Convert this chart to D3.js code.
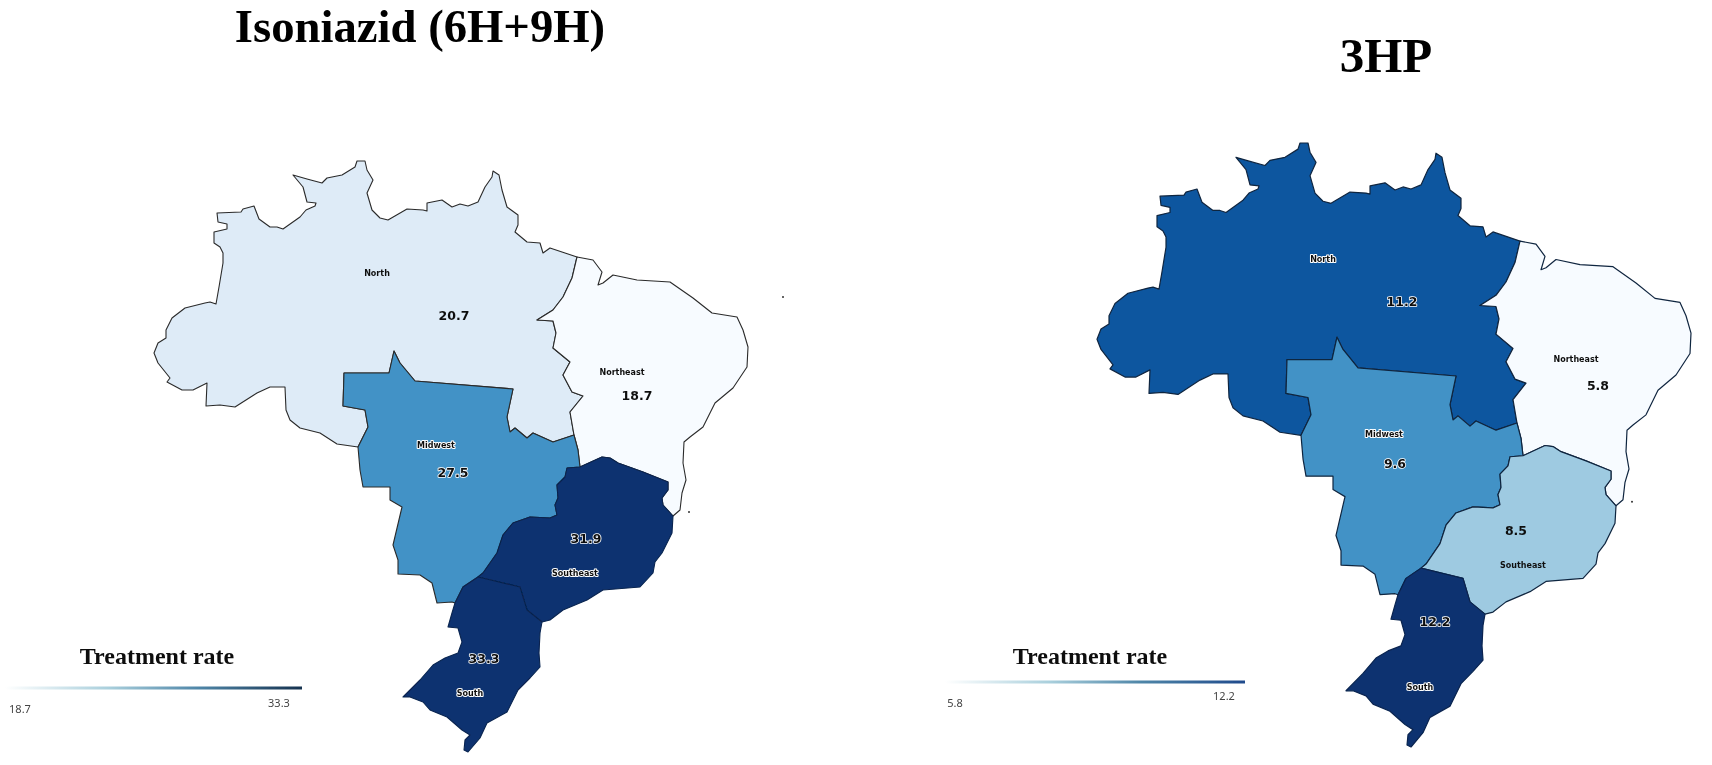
<!DOCTYPE html>
<html><head><meta charset="utf-8">
<script src="https://cdn.jsdelivr.net/npm/d3@7"></script>
<style>html,body{margin:0;padding:0;background:#fff}svg{display:block}</style>
</head><body><svg id="c" width="1712" height="765"></svg>
<script>
// ---------- data ----------
const regions = ["North","Northeast","Midwest","Southeast","South"];
const isoniazidRates = [20.7,18.7,27.5,31.9,33.3];
const threeHpRates = [11.2,5.8,9.6,8.5,12.2];
const panelTitles = ["Isoniazid (6H+9H)","3HP"];
const legendTitle = "Treatment rate";
const blueClasses = ["#f7fbff","#deebf7","#9ecae1","#4292c6","#0f569f","#0a3270"];
const blueBreaks = [0.1,0.3,0.5,0.75,0.87];

// map geometry (map units), shared borders between regions
const northWestBorder = [[358,447],[337,444],[320,433],[300,428],[290,420],[286,410],[285,387],[270,387],[257,393],[235,407],[220,405],[206,406],[207,383],[193,390],[182,390],[167,382],[170,378],[158,363],[154,353]];
const northCoast = [[158,343],[166,338],[166,330],[172,318],[185,308],[205,303],[210,302],[216,304],[219,287],[223,263],[223,253],[220,247],[214,243],[214,232],[227,229],[227,224],[218,222],[217,213],[241,212],[243,209],[254,206],[259,219],[270,227],[277,227],[283,229],[300,217],[306,210],[315,206],[316,203],[307,202],[303,187],[293,175],[307,179],[322,183],[327,178],[342,175],[355,167],[357,161],[365,161],[367,170],[373,180],[367,193],[372,210],[380,218],[388,220],[407,209],[423,210],[427,211],[427,203],[442,200],[452,207],[460,204],[468,206],[478,202],[485,187],[492,177],[493,171],[499,175],[502,190],[507,207],[518,215],[518,225],[515,232],[527,242],[540,243],[543,253],[550,248],[577,257]];
const northNortheastBorder = [[572,278],[563,297],[553,310],[537,320],[553,321],[556,333],[553,348],[570,362],[563,375],[572,392],[583,396],[570,412],[574,435]];
const northMidwestBorder = [[553,442],[533,433],[527,438],[515,428],[510,432],[507,417],[513,389],[415,381],[400,363],[394,351],[389,373],[344,373],[343,406],[365,410],[368,427],[358,447]];
const northeastCoast = [[593,260],[602,272],[598,285],[603,283],[613,275],[637,280],[670,282],[693,298],[712,313],[737,317],[743,330],[748,347],[747,367],[733,388],[715,403],[703,427],[690,437],[684,442],[683,463],[686,480],[682,493],[680,510],[673,516]];
const midwestNortheastBorder = [[578,450],[580,467]];
const southeastNortheastBorder = [[602,457],[610,458],[618,463],[643,472],[668,482],[668,490],[662,498],[663,505],[673,516]];
const southeastMidwestBorder = [[580,467],[567,468],[565,477],[557,485],[558,498],[555,505],[557,515],[550,518],[530,517],[513,523],[503,535],[497,553],[483,573],[478,577]];
const southeastCoast = [[672,533],[662,553],[655,562],[653,573],[640,587],[603,590],[587,600],[563,610],[550,620],[542,622]];
const southeastSouthBorder = [[527,610],[520,587],[478,577]];
const southCoast = [[540,633],[539,653],[540,667],[530,678],[518,690],[507,712],[487,723],[480,738],[468,752],[464,750],[465,740],[470,735],[462,730],[447,717],[430,710],[423,702],[410,697],[403,697],[420,680],[433,665],[445,658],[458,653],[462,642],[458,628],[448,627],[452,613],[455,603]];
const southMidwestBorder = [[463,587],[478,577]];
const midwestWestBorder = [[452,602],[437,603],[432,583],[420,575],[398,574],[398,560],[393,545],[402,507],[390,500],[390,487],[363,487],[360,470],[358,447]];
const islets = [[783,297],[689,512]];

const rev = a => a.slice().reverse();
const regionShapes = [
  [...northWestBorder,...northCoast,...northNortheastBorder,...northMidwestBorder],
  [[574,435],...rev(northNortheastBorder),[577,257],...northeastCoast,...rev(southeastNortheastBorder),[580,467],...rev(midwestNortheastBorder)],
  [...rev(northMidwestBorder),[574,435],...midwestNortheastBorder,...southeastMidwestBorder,...southMidwestBorder.slice().reverse(),[455,603],...midwestWestBorder],
  [[580,467],...southeastNortheastBorder,...southeastCoast,...southeastSouthBorder,...rev(southeastMidwestBorder)],
  [[478,577],...rev(southeastSouthBorder).slice(1),[542,622],...southCoast,[463,587]]
];

// label anchors in page space
const nameAnchorsX = [[377,622,436,575,470],[1323,1576,1384,1523,1420]];
const nameAnchorsY = [[273,372,445,573,693],[259,359,434,565,687]];
const valueAnchorsX = [[454,637,453,586,484],[1402,1598,1395,1516,1435]];
const valueAnchorsY = [[315,395,472,538,658],[301,385,463,530,621]];

// ---------- drawing ----------
const svg = d3.select("#c");
const defs = svg.append("defs");
defs.append("filter").attr("id","soft").append("feGaussianBlur").attr("stdDeviation",0.35);
const root = svg.append("g").attr("filter","url(#soft)");
root.append("rect").attr("width",1712).attr("height",765).attr("fill","#fff");
const panels = [
  {rates:isoniazidRates, title:panelTitles[0], tx:420, ty:42, ts:46.7,
   x:d3.scaleLinear().domain([154,748]).range([154,748]),
   y:d3.scaleLinear().domain([161,752]).range([161,752]),
   lx:[5,302], ly:688, ldx:[20,279], lyv:[708,702], ltx:157, end:"#16324f", strokeW:1.1, stroke:"#2a2a2a"},
  {rates:threeHpRates, title:panelTitles[1], tx:1386, ty:72, ts:49,
   x:d3.scaleLinear().domain([154,748]).range([1097,1691]),
   y:d3.scaleLinear().domain([161,752]).range([143,747]),
   lx:[945,1245], ly:682, ldx:[955,1224], lyv:[702,695], ltx:1090, end:"#1f4a8c", strokeW:1.2, stroke:"#10253f"}
];

panels.forEach((p,pi)=>{
  const ext = d3.extent(p.rates);
  const unit = d3.scaleLinear().domain(ext).range([0,1]);
  const colour = d3.scaleThreshold().domain(blueBreaks).range(blueClasses);
  const line = d3.line().x(d=>p.x(d[0])).y(d=>p.y(d[1]));
  const g = root.append("g");
  g.selectAll("path").data(regions).join("path")
    .attr("d",(d,i)=>line(regionShapes[i])+"Z")
    .attr("fill",(d,i)=>colour(unit(p.rates[i])))
    .attr("stroke",(d,i)=>unit(p.rates[i])>0.87?"#07244f":p.stroke)
    .attr("stroke-width",p.strokeW).attr("stroke-linejoin","round");
  g.selectAll("circle").data(islets).join("circle")
    .attr("cx",d=>p.x(d[0])).attr("cy",d=>p.y(d[1])).attr("r",1).attr("fill","#333");

  const labelStyle = s => s.attr("text-anchor","middle").attr("dominant-baseline","central")
    .attr("font-family","DejaVu Sans").attr("font-weight","bold").attr("fill","#111")
    .attr("paint-order","stroke").attr("stroke-linejoin","round");
  g.selectAll("text.name").data(regions).join("text").attr("class","name")
    .attr("x",(d,i)=>nameAnchorsX[pi][i]).attr("y",(d,i)=>nameAnchorsY[pi][i])
    .call(labelStyle).attr("font-size",8)
    .attr("stroke",(d,i)=>unit(p.rates[i])>0.5?"#fff":"none").attr("stroke-width",2)
    .text(d=>d);
  g.selectAll("text.val").data(p.rates).join("text").attr("class","val")
    .attr("x",(d,i)=>valueAnchorsX[pi][i]).attr("y",(d,i)=>valueAnchorsY[pi][i])
    .call(labelStyle).attr("font-size",12.5)
    .attr("stroke",d=>unit(d)>0.5?"#fff":"none").attr("stroke-width",1.6)
    .text(d=>d.toFixed(1));

  root.append("text").attr("x",p.tx).attr("y",p.ty).attr("text-anchor","middle")
    .attr("font-family","Liberation Serif").attr("font-weight","bold").attr("font-size",p.ts)
    .attr("fill","#000").text(p.title);

  // legend
  const gid = "lg"+pi;
  const grad = defs.append("linearGradient").attr("id",gid);
  [[0,"#ffffff"],[0.35,"#a9cfdc"],[0.65,"#4f86a8"],[1,p.end]].forEach(s=>
    grad.append("stop").attr("offset",s[0]).attr("stop-color",s[1]));
  const lscale = d3.scaleLinear().domain(ext).range(p.lx);
  root.append("rect").attr("x",lscale(ext[0])).attr("y",p.ly-1.5)
    .attr("width",lscale(ext[1])-lscale(ext[0])).attr("height",3).attr("fill",`url(#${gid})`);
  root.append("text").attr("x",p.ltx).attr("y",664).attr("text-anchor","middle")
    .attr("font-family","Liberation Serif").attr("font-weight","bold").attr("font-size",24)
    .attr("fill","#111").text(legendTitle);
  ext.forEach((v,i)=>root.append("text").attr("x",p.ldx[i]).attr("y",p.lyv[i])
    .attr("text-anchor","middle").attr("dominant-baseline","central")
    .attr("font-family","Noto Sans").attr("font-size",11).attr("fill","#444").text(v.toFixed(1)));
});
</script></body></html>
